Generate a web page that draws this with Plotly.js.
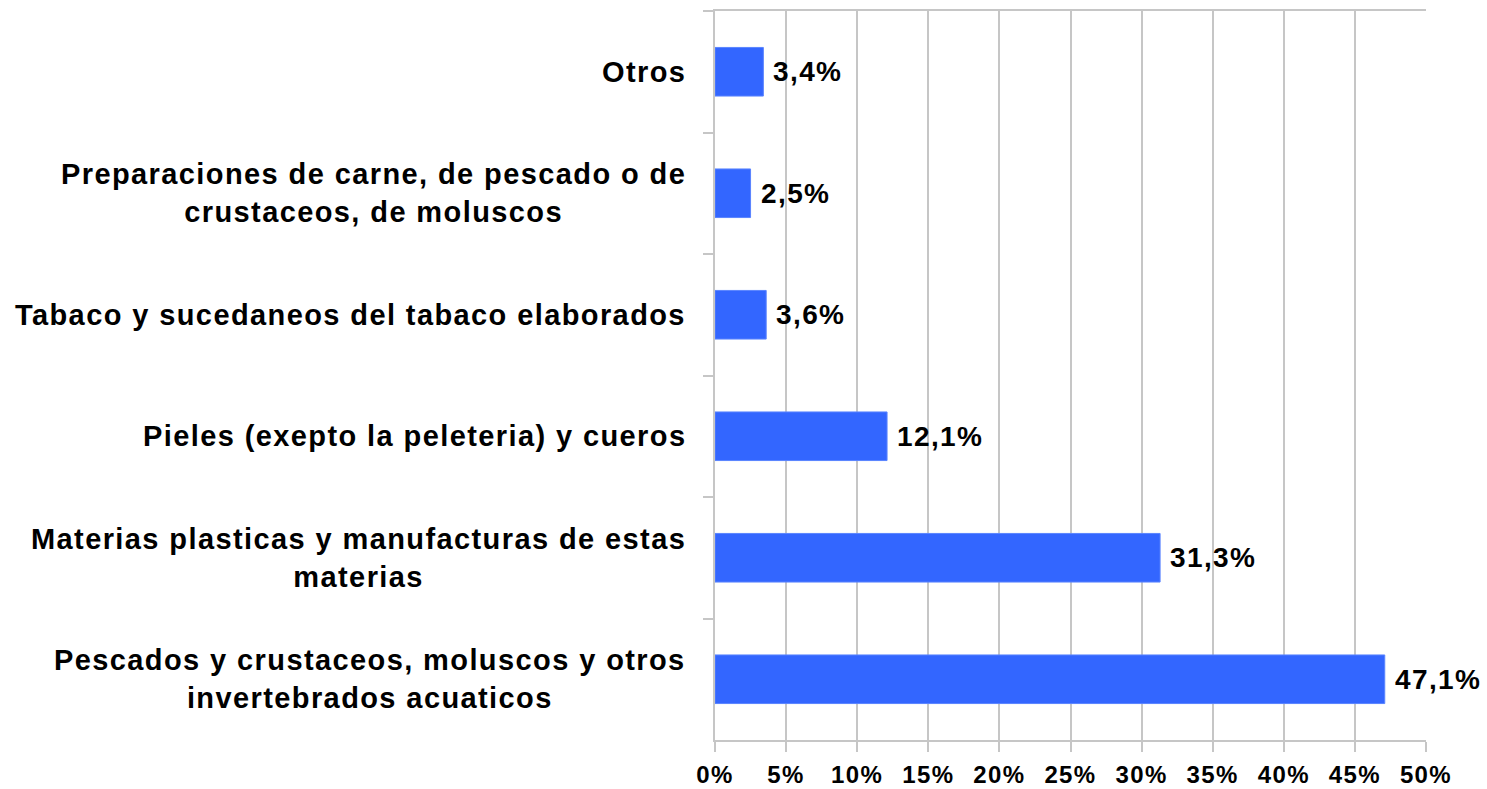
<!DOCTYPE html>
<html>
<head>
<meta charset="utf-8">
<script src="https://cdn.plot.ly/plotly-3.0.1.min.js"></script>
<style>
  html, body { margin: 0; padding: 0; background: #ffffff; }
  #chart { width: 1487px; height: 789px; }
  text { letter-spacing: 1.4px; }
</style>
</head>
<body>
<div id="chart"></div>
<script>
// Categories, top to bottom as shown
var categories = [
  "Otros",
  "Preparaciones de carne, de pescado o de<br>crustaceos, de moluscos",
  "Tabaco y sucedaneos del tabaco elaborados",
  "Pieles (exepto la peleteria) y cueros",
  "Materias plasticas y manufacturas de estas<br>materias",
  "Pescados y crustaceos, moluscos y otros<br>invertebrados acuaticos"
];
// Share of total, percent
var values = [3.4, 2.5, 3.6, 12.1, 31.3, 47.1];
var xTickValues = [0, 5, 10, 15, 20, 25, 30, 35, 40, 45, 50];

var labels = values.map(function (v) { return v.toFixed(1).replace('.', ',') + '%'; });

var gridColor = '#c6c6c6';
var fontFamily = '"Liberation Sans", Arial, sans-serif';

var trace = {
  type: 'bar',
  orientation: 'h',
  x: values,
  y: categories,
  width: 0.4,
  marker: { color: '#3366ff', line: { color: '#5a84ff', width: 1 } },
  hoverinfo: 'none'
};

var categoryAnnotations = categories.map(function (c) {
  return {
    x: 0, y: c, xref: 'paper', yref: 'y',
    text: c, showarrow: false, align: 'center',
    xanchor: 'right', yanchor: 'middle', xshift: -27,
    font: { family: fontFamily, size: 29, color: '#000000', weight: 'bold' }
  };
});

var valueAnnotations = values.map(function (v, i) {
  return {
    x: v, y: categories[i], xref: 'x', yref: 'y',
    text: labels[i], showarrow: false,
    xanchor: 'left', yanchor: 'middle', xshift: 8,
    font: { family: fontFamily, size: 28, color: '#000000', weight: 'bold' }
  };
});

var layout = {
  width: 1487, height: 789,
  margin: { l: 715, r: 61, t: 11, b: 49 },
  paper_bgcolor: '#ffffff', plot_bgcolor: '#ffffff',
  showlegend: false,
  xaxis: {
    range: [0, 50],
    tickvals: xTickValues,
    ticktext: xTickValues.map(function (t) { return t + '%'; }),
    showgrid: true, gridcolor: gridColor, gridwidth: 2,
    showline: true, linecolor: gridColor, linewidth: 2, mirror: true,
    ticks: 'outside', ticklen: 10, tickwidth: 2, tickcolor: gridColor,
    zeroline: false,
    ticklabelstandoff: 2,
    tickfont: { family: fontFamily, size: 24, color: '#000000', weight: 'bold' },
    fixedrange: true
  },
  yaxis: {
    type: 'category',
    autorange: 'reversed',
    tickson: 'boundaries',
    ticks: 'outside', ticklen: 10, tickwidth: 2, tickcolor: gridColor,
    showline: true, linecolor: gridColor, linewidth: 2,
    showgrid: false, zeroline: false,
    showticklabels: false,
    fixedrange: true
  },
  annotations: categoryAnnotations.concat(valueAnnotations)
};

Plotly.newPlot('chart', [trace], layout, { displayModeBar: false, staticPlot: true });
</script>
</body>
</html>
